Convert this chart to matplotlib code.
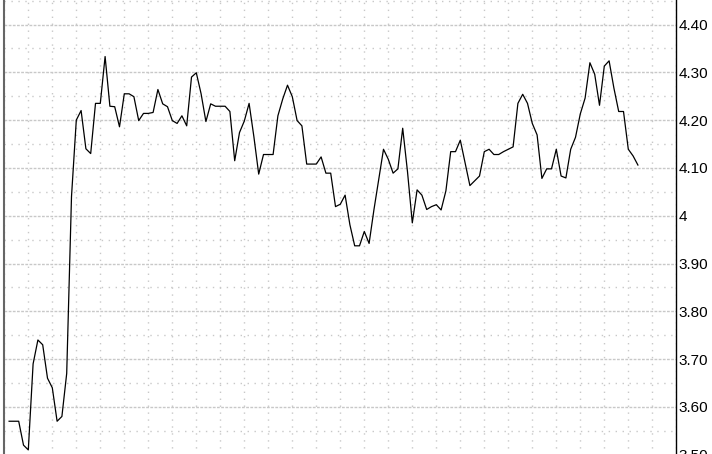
import matplotlib
matplotlib.use("Agg")
import matplotlib.pyplot as plt
from matplotlib.ticker import MultipleLocator, FixedLocator

# price series, one value per period
prices = [
    3.57, 3.57, 3.57, 3.52, 3.51, 3.69, 3.74, 3.73, 3.66, 3.64,
    3.57, 3.58, 3.67, 4.04, 4.20, 4.22, 4.14, 4.13, 4.235, 4.235,
    4.333, 4.229, 4.228, 4.186, 4.255, 4.255, 4.249, 4.199, 4.214, 4.214,
    4.216, 4.264, 4.234, 4.228, 4.199, 4.193, 4.209, 4.188, 4.290, 4.299,
    4.255, 4.197, 4.234, 4.229, 4.229, 4.229, 4.218, 4.115, 4.174, 4.198,
    4.235, 4.165, 4.087, 4.128, 4.128, 4.128, 4.209, 4.244, 4.273, 4.249,
    4.199, 4.188, 4.108, 4.108, 4.108, 4.123, 4.089, 4.089, 4.019, 4.024,
    4.043, 3.981, 3.937, 3.937, 3.967, 3.942, 4.012, 4.075, 4.139, 4.118,
    4.089, 4.098, 4.183, 4.092, 3.985, 4.054, 4.043, 4.013, 4.019, 4.023,
    4.012, 4.052, 4.134, 4.134, 4.158, 4.111, 4.063, 4.073, 4.083, 4.134,
    4.139, 4.128, 4.128, 4.134, 4.139, 4.144, 4.235, 4.254, 4.235, 4.193,
    4.169, 4.078, 4.098, 4.098, 4.139, 4.083, 4.079, 4.139, 4.164, 4.213,
    4.246, 4.320, 4.296, 4.231, 4.313, 4.324, 4.267, 4.218, 4.218, 4.139,
    4.125, 4.106,
]
periods = list(range(1, len(prices) + 1))

ytick_vals = [3.50, 3.60, 3.70, 3.80, 3.90, 4.00, 4.10, 4.20, 4.30, 4.40]
ytick_labels = ["3.50", "3.60", "3.70", "3.80", "3.90", "4", "4.10", "4.20", "4.30", "4.40"]

W, H = 712, 454
fig = plt.figure(figsize=(W / 100, H / 100), dpi=100)

# axes runs past the top and bottom of the image like the reference crop
y_top_px = 24.5 - (4.50 - 4.40) * 478
y_bot_px = 24.5 + (4.40 - 3.40) * 478
ax = fig.add_axes([4.3 / W, 1 - y_bot_px / H, 672 / W, (y_bot_px - y_top_px) / H])

ax.plot(periods, prices, color="black", lw=0.9)

ax.set_xlim(0, 140)
ax.set_ylim(3.40, 4.50)

ax.yaxis.tick_right()
ax.yaxis.set_major_locator(FixedLocator(ytick_vals))
ax.set_yticklabels(ytick_labels)
ax.yaxis.set_minor_locator(MultipleLocator(0.05))
ax.xaxis.set_major_locator(MultipleLocator(5))
ax.tick_params(axis="y", which="both", length=0, pad=1.5, labelsize=11)
ax.tick_params(axis="x", which="both", length=0, labelbottom=False)
for lab in ax.get_yticklabels():
    lab.set_fontfamily(["Liberation Sans", "DejaVu Sans"])

ax.grid(True, axis="y", which="major", color="#c8c8c8", lw=1, ls=(0, (2, 1)))
ax.grid(True, axis="y", which="minor", color="#c8c8c8", lw=1, ls=(0, (1, 4)))
ax.grid(True, axis="x", which="major", color="#c8c8c8", lw=1, ls=(0, (1, 4)))
ax.set_axisbelow(True)

ax.spines["top"].set_visible(False)
ax.spines["bottom"].set_visible(False)
ax.spines["left"].set_color("#666666")
ax.spines["left"].set_linewidth(1.5)
ax.spines["right"].set_color("black")
ax.spines["right"].set_linewidth(1)

fig.savefig("out.png", dpi=100)
